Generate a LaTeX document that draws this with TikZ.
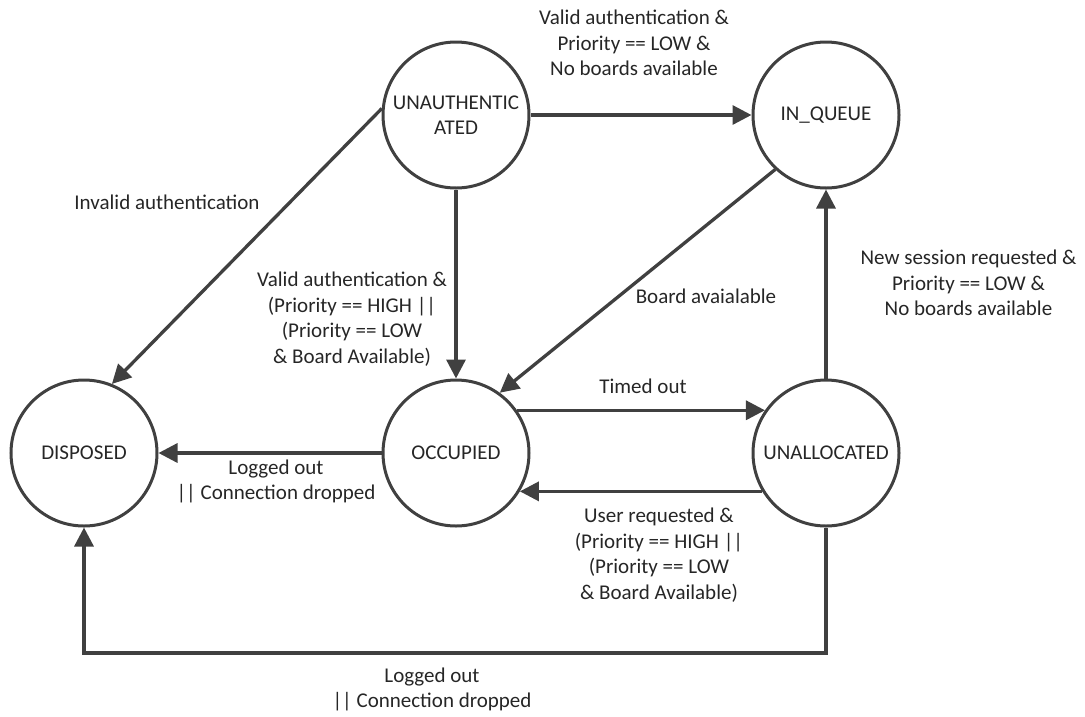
\documentclass[tikz,border=0pt]{standalone}
\usepackage{fontspec}
\setmainfont{Carlito}
\usetikzlibrary{arrows.meta}
\definecolor{ln}{HTML}{404040}
\definecolor{tx}{HTML}{262626}
\newcommand{\lblfont}{\fontsize{21}{25.5}\selectfont}
\begin{document}
\begin{tikzpicture}[x=1pt,y=-1pt,
  state/.style={circle, draw=ln, line width=3pt, minimum size=146pt, inner sep=0pt, align=center, text=tx, font=\lblfont},
  lab/.style={align=center, text=tx, font=\lblfont, inner sep=0pt},
  conn/.style={draw=ln, line width=3.3pt, -{Triangle[length=19pt,width=19pt]}},
]
\useasboundingbox (0,0) rectangle (1085,716);

\node[state] (ua) at (456,115) {UNAUTHENTIC\\ATED};
\node[state] (iq) at (826,115) {IN\_QUEUE};
\node[state] (d)  at (84,453)  {DISPOSED};
\node[state] (o)  at (456,453) {OCCUPIED};
\node[state] (al) at (826,453) {UNALLOCATED};
\coordinate (bl) at (84,653);

\draw[conn] (ua) -- (iq);
\draw[conn] (ua.175) -- (d.68);
\draw[conn] (ua) -- (o);
\draw[conn] (iq.227) -- (o.54);
\draw[conn] (o.35) -- (al.145);
\draw[conn] (al.211) -- (o.329);
\draw[conn] (o) -- (d);
\draw[conn] (al) -- (iq);
\draw[conn] (al.south) |- (bl) -- (d.south);

\node[lab] (l1) at (634,43) {Valid authentication \&\\Priority == LOW \&\\No boards available};
\node[lab] (l2) at (167,202) {Invalid authentication};
\node[lab] (l3) at (352,319) {Valid authentication \&\\(Priority == HIGH ||\\(Priority == LOW\\\& Board Available)};
\node[lab] (l4) at (706,296) {Board avaialable};
\node[lab] (l5) at (968.5,283) {New session requested \&\\Priority == LOW \&\\No boards available};
\node[lab] (l6) at (643,386) {Timed out};
\node[lab] (l7) at (276,481.5) {Logged out\\|| Connection dropped};
\node[lab] (l8) at (659,555) {User requested \&\\(Priority == HIGH ||\\(Priority == LOW\\\& Board Available)};
\node[lab] (l9) at (432,689.5) {Logged out\\|| Connection dropped};
\end{tikzpicture}
\end{document}
